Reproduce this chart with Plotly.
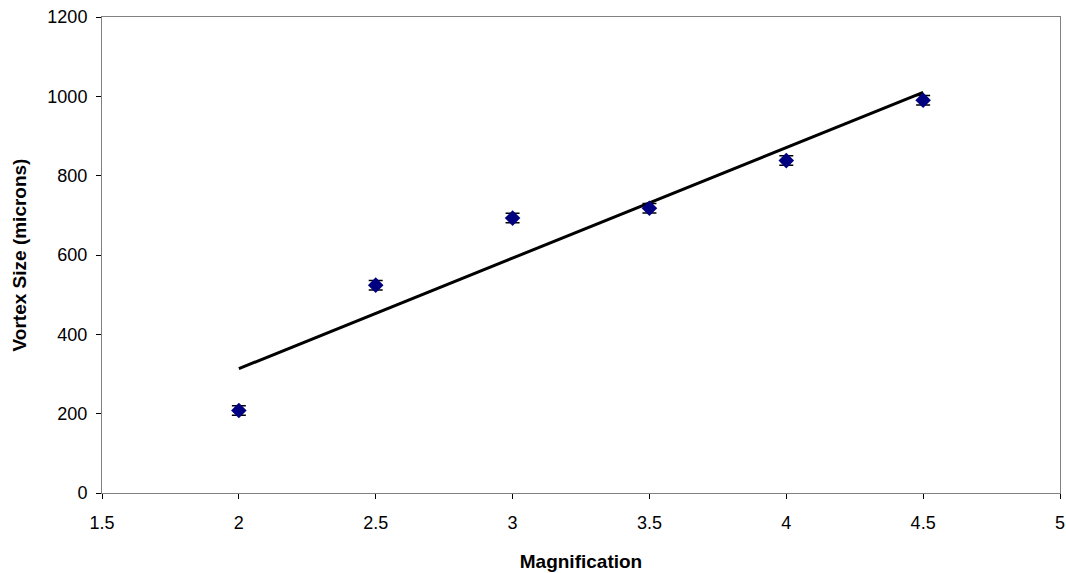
import numpy as np
import plotly.graph_objects as go

# Measured vortex size vs. magnification
magnification = [2.0, 2.5, 3.0, 3.5, 4.0, 4.5]
vortex_size = [208, 524, 693, 718, 838, 990]
size_error = [12, 12, 12, 12, 12, 12]

# Linear trendline through the measurements
slope, intercept = np.polyfit(magnification, vortex_size, 1)
trend_x = [magnification[0], magnification[-1]]
trend_y = [slope * x + intercept for x in trend_x]

fig = go.Figure()
fig.add_trace(go.Scatter(
    x=trend_x, y=trend_y, mode="lines",
    line=dict(color="black", width=3), hoverinfo="skip", showlegend=False,
))
fig.add_trace(go.Scatter(
    x=magnification, y=vortex_size, mode="markers",
    marker=dict(symbol="diamond", size=12, color="#000080"),
    error_y=dict(type="data", array=size_error, color="black", thickness=1.5, width=7),
    showlegend=False,
))

family = "Liberation Sans, Arial, sans-serif"
tick_font = dict(family=family, size=18, color="black")
title_font = dict(family=family, size=19, color="black")
fig.update_layout(
    width=1066, height=573,
    margin=dict(l=102, r=6, t=17, b=80),
    paper_bgcolor="white", plot_bgcolor="white",
    xaxis=dict(
        range=[1.5, 5], dtick=0.5, tick0=1.5, automargin=False,
        showgrid=False, zeroline=False,
        showline=True, linecolor="#808080", linewidth=1, mirror=True,
        ticks="outside", ticklen=5, tickcolor="black",
        tickfont=tick_font, ticklabelstandoff=8,
        title=dict(text="<b>Magnification</b>", font=title_font, standoff=23),
    ),
    yaxis=dict(
        range=[0, 1200], dtick=200, automargin=False,
        showgrid=False, zeroline=False,
        showline=True, linecolor="#808080", linewidth=1, mirror=True,
        ticks="outside", ticklen=5, tickcolor="black",
        tickfont=tick_font, ticklabelstandoff=5,
        title=dict(text="<b>Vortex Size (microns)</b>", font=title_font, standoff=15),
    ),
)

fig.write_html("out.html")
